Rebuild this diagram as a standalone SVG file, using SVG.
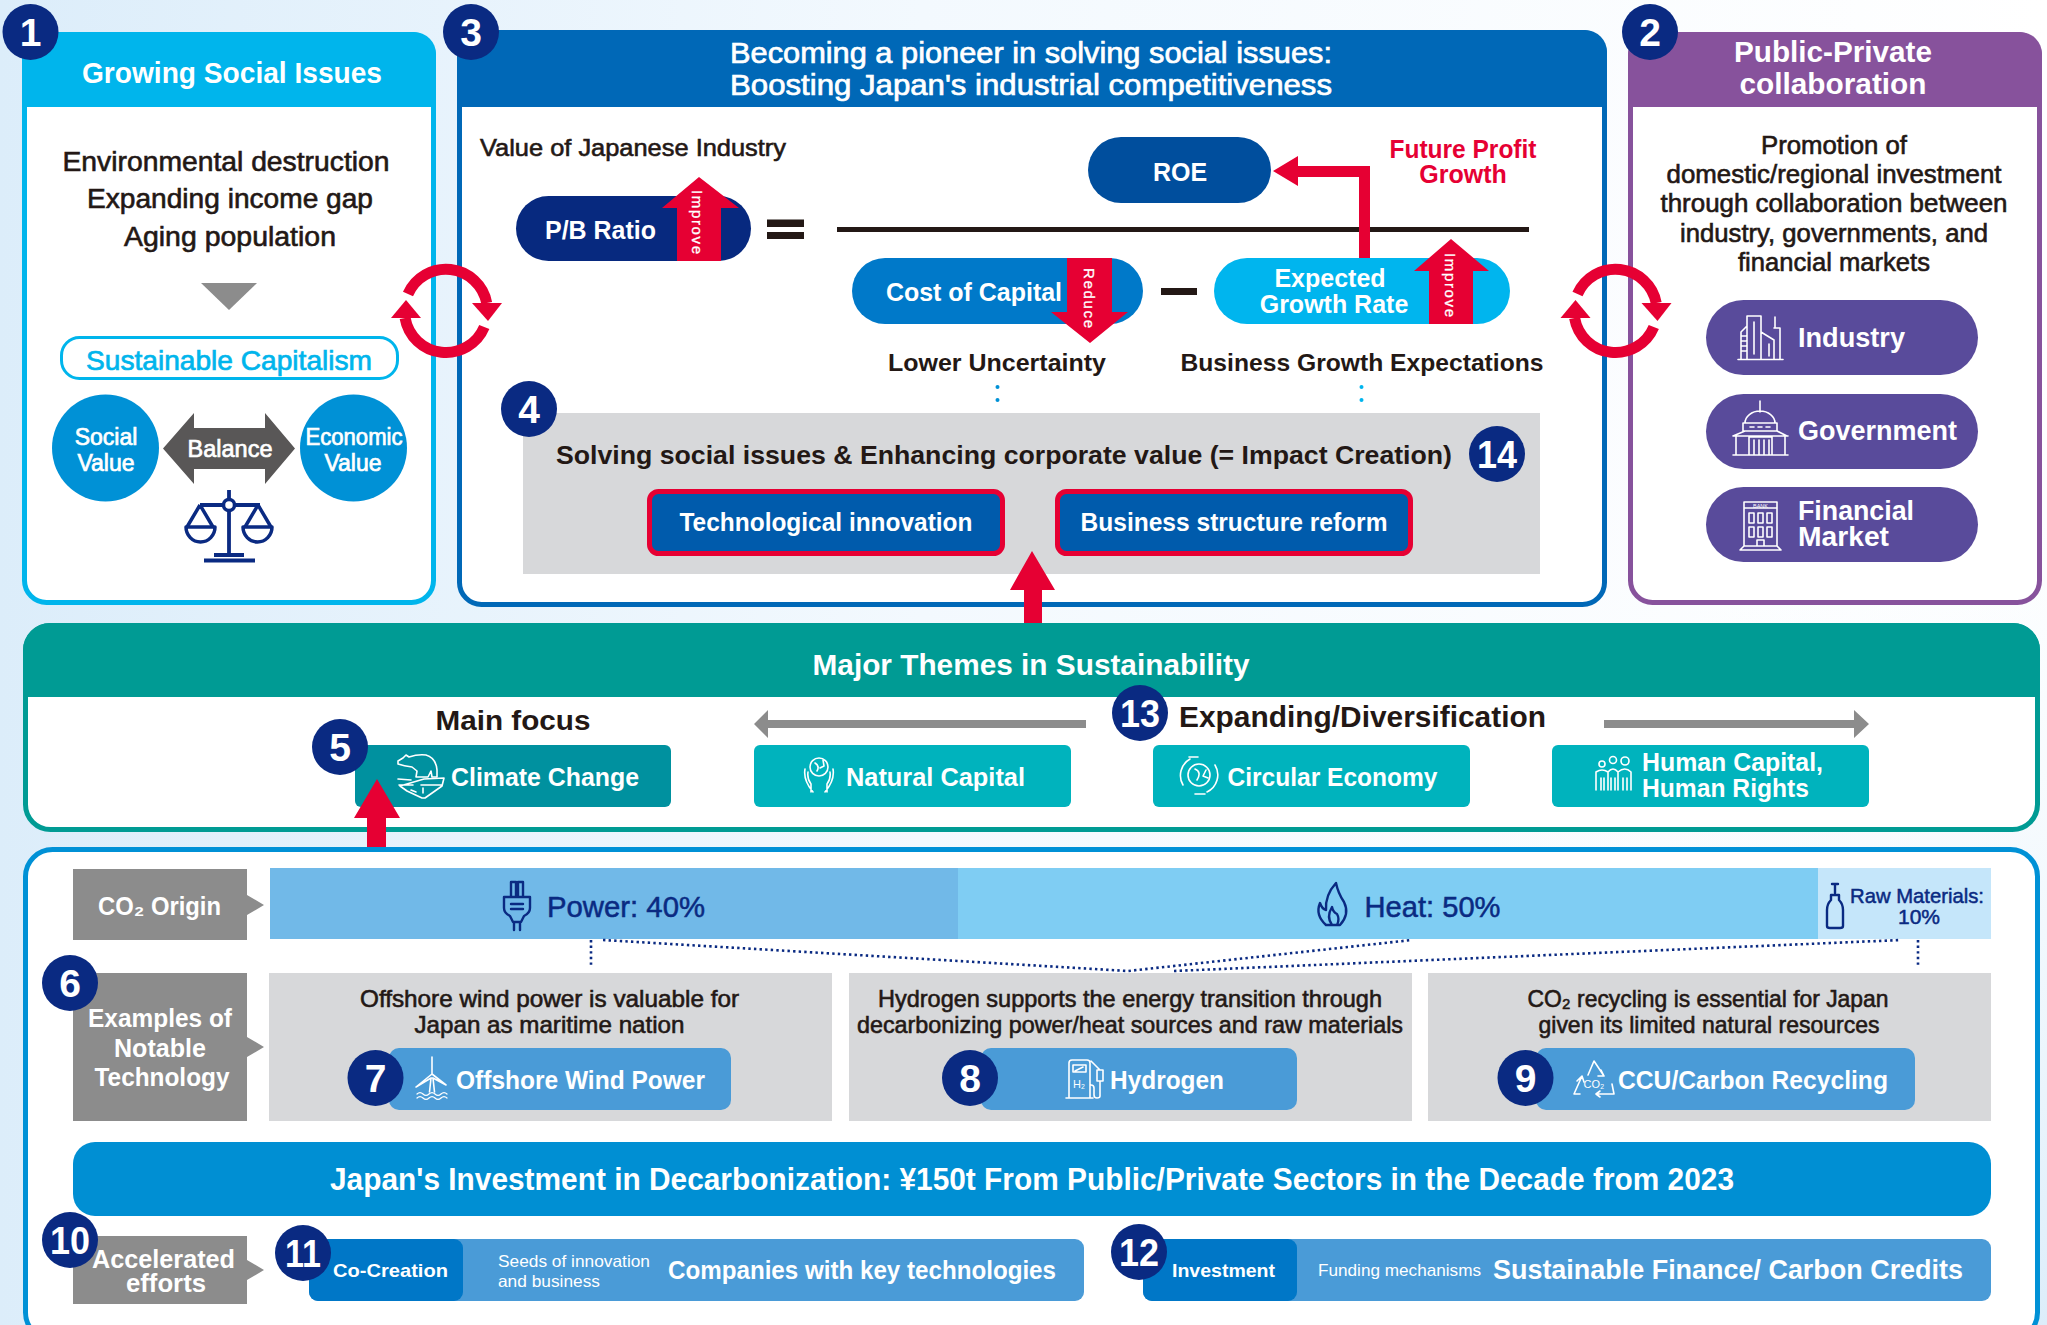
<svg xmlns="http://www.w3.org/2000/svg" width="2047" height="1325" viewBox="0 0 2047 1325">
<style>
text{font-family:"Liberation Sans",Arial,sans-serif}
.c{text-anchor:middle}
.b{font-weight:700}
.dk{fill:#231815;stroke:#231815;stroke-width:.6}
.wr{fill:#fff;stroke:#fff;stroke-width:.7}
.wh{fill:#fff;font-weight:700}
.wb{fill:#fff;font-weight:700}
.nv{fill:#0a2a82;stroke:#0a2a82;stroke-width:.5}
.bdg{fill:#0a2a82}
.bt{fill:#fff;font-weight:700;font-size:39px;text-anchor:middle}
.ic{fill:none;stroke:#fff;stroke-width:1.6;stroke-linejoin:round;stroke-linecap:round}
.in{fill:none;stroke:#0a2a82;stroke-width:2.4;stroke-linejoin:round;stroke-linecap:round}
.red{fill:#e60033}
.gy{fill:#8c8c8c}
.lg{fill:#d7d8da}
.btn{fill:#4a9bd7}
.th{fill:#00b3bd}
.pp{fill:#594b9b}
.lb{fill:#fff;font-size:15px;text-anchor:middle;stroke:#fff;stroke-width:.3}
.dot{fill:none;stroke:#0a2a82;stroke-width:2.6;stroke-dasharray:2.4 3.2}
.ring{fill:none;stroke:#e60033;stroke-width:11}
</style>
<defs>
<linearGradient id="bg" x1="0" y1="0" x2="1" y2="0"><stop offset="0" stop-color="#dcedfa"/><stop offset=".45" stop-color="#f3f9fe"/><stop offset="1" stop-color="#fff"/></linearGradient>
<linearGradient id="bg2" x1="0" y1="0" x2="1" y2="1"><stop offset=".6" stop-color="#fff" stop-opacity="0"/><stop offset="1" stop-color="#dcedfa"/></linearGradient>
<g id="cycle">
<path class="ring" d="M408 294A41.500 41.500 0 0 1 486.700 303"/><path class="red" d="M472 303H502L488 321Z"/>
<path class="ring" d="M484.300 327A41.500 41.500 0 0 1 405.100 318"/><path class="red" d="M391 318H421L406 300Z"/>
</g>
</defs>
<rect width="2047" height="1325" fill="url(#bg)"/>
<rect width="2047" height="1325" fill="url(#bg2)"/>

<g id="panel-1">
<rect x="24.500" y="34.500" width="409" height="568" rx="22" fill="#fff" stroke="#00b5ec" stroke-width="5"/>
<path d="M22 107V54a22 22 0 0 1 22-22H414a22 22 0 0 1 22 22V107Z" fill="#00b5ec"/>
<text class="wb c" x="232" y="83" font-size="30" textLength="300" lengthAdjust="spacingAndGlyphs">Growing Social Issues</text>
<g class="dk" font-size="27">
<text class="c" x="226" y="171" textLength="327" lengthAdjust="spacingAndGlyphs">Environmental destruction</text>
<text class="c" x="230" y="208" textLength="286" lengthAdjust="spacingAndGlyphs">Expanding income gap</text>
<text class="c" x="230" y="246" textLength="212" lengthAdjust="spacingAndGlyphs">Aging population</text>
</g>
<path class="gy" d="M201 283H257L229 310Z"/>
<circle class="bdg" cx="30.500" cy="32" r="28"/><text class="bt" x="30.500" y="46">1</text>
</g>

<g id="sustainable-capitalism">
<rect x="61.500" y="337.500" width="336" height="41" rx="18" fill="#fff" stroke="#00b5ec" stroke-width="3"/>
<text class="c" x="229" y="370" font-size="28" fill="#00b5ec" stroke="#00b5ec" stroke-width=".7" textLength="286" lengthAdjust="spacingAndGlyphs">Sustainable Capitalism</text>
</g>
<g id="social-value"><circle cx="105.500" cy="448" r="53.500" fill="#0091d6"/>
<text class="wr c" x="106" y="445" font-size="23">Social</text><text class="wr c" x="106" y="471" font-size="23">Value</text></g>
<g id="economic-value"><circle cx="353.500" cy="448" r="53.500" fill="#0091d6"/>
<text class="wr c" x="354" y="445" font-size="23" textLength="97" lengthAdjust="spacingAndGlyphs">Economic</text><text class="wr c" x="353" y="471" font-size="23">Value</text></g>
<g id="balance"><path d="M163 448.500L194 413V428H265V413L295 448.500L265 484V469H194V484Z" fill="#595757"/>
<text class="wr c" x="230" y="456.500" font-size="23.500">Balance</text>
<g fill="none" stroke="#0a2a82" stroke-width="3.500" stroke-linejoin="round">
<path d="M229 490V554M200 505H260M214 555H244M204 560.500H255" stroke-width="3.800"/>
<circle cx="229" cy="505" r="5.500" fill="#fff"/>
<path d="M200 505L187 527M200 505L213 527M258 505L245 527M258 505L271 527"/>
<path d="M186 527H215A14.500 15 0 0 1 186 527ZM243 527H272A14.500 15 0 0 1 243 527Z"/>
</g></g>

<g id="panel-3">
<rect x="459.500" y="32.500" width="1145" height="572" rx="22" fill="#fff" stroke="#0068b7" stroke-width="5"/>
<path d="M457 107V52a22 22 0 0 1 22-22H1585a22 22 0 0 1 22 22V107Z" fill="#0068b7"/>
<text class="wr c" x="1031" y="63" font-size="29" textLength="602" lengthAdjust="spacingAndGlyphs">Becoming a pioneer in solving social issues:</text>
<text class="wr c" x="1031" y="95" font-size="29" textLength="602" lengthAdjust="spacingAndGlyphs">Boosting Japan's industrial competitiveness</text>
<text class="dk" x="480" y="156" font-size="24.500" textLength="306" lengthAdjust="spacingAndGlyphs">Value of Japanese Industry</text>
<circle class="bdg" cx="471" cy="32" r="28"/><text class="bt" x="471" y="46">3</text>
</g>
<g id="panel-2">
<rect x="1630.500" y="34.500" width="409" height="568" rx="22" fill="#fff" stroke="#87529c" stroke-width="5"/>
<path d="M1628 107V54a22 22 0 0 1 22-22H2020a22 22 0 0 1 22 22V107Z" fill="#87529c"/>
<text class="wb c" x="1833" y="62" font-size="29.500" textLength="198" lengthAdjust="spacingAndGlyphs">Public-Private</text>
<text class="wb c" x="1833" y="94" font-size="29.500" textLength="187" lengthAdjust="spacingAndGlyphs">collaboration</text>
<g class="dk" font-size="25">
<text class="c" x="1834" y="154" textLength="146" lengthAdjust="spacingAndGlyphs">Promotion of</text>
<text class="c" x="1834" y="183" textLength="335" lengthAdjust="spacingAndGlyphs">domestic/regional investment</text>
<text class="c" x="1834" y="212" textLength="347" lengthAdjust="spacingAndGlyphs">through collaboration between</text>
<text class="c" x="1834" y="242" textLength="308" lengthAdjust="spacingAndGlyphs">industry, governments, and</text>
<text class="c" x="1834" y="271" textLength="192" lengthAdjust="spacingAndGlyphs">financial markets</text>
</g>
<circle class="bdg" cx="1650" cy="32" r="28"/><text class="bt" x="1650" y="46">2</text>
</g>

<g id="industry"><rect class="pp" x="1706" y="300" width="272" height="75" rx="37.500"/>
<g class="ic"><path d="M1738 359.500H1783M1741 359.500V332L1747 326V359.500M1747 359.500V316H1761V359.500M1761 332L1774 340V359.500M1774 328H1780V359.500M1775 328V317M1741 336H1746M1741 341H1746M1741 346H1746M1741 351H1746M1754 322V354M1769 344V356"/></g>
<text class="wb" x="1798" y="347" font-size="28" textLength="107" lengthAdjust="spacingAndGlyphs">Industry</text></g>
<g id="government"><rect class="pp" x="1706" y="394" width="272" height="75" rx="37.500"/>
<g class="ic"><path d="M1760 401V412M1745 423A15 12 0 0 1 1775 423M1743 423H1777V431H1743ZM1733 436L1745 431M1787 436L1777 431M1733 436H1788M1736 436V455M1785 436V455M1733 455H1788M1749 437H1772V455M1749 437V455M1754 440V455M1759 440V455M1764 440V455M1769 440V455M1750 427H1754M1758 427H1762M1766 427H1770"/></g>
<text class="wb" x="1798" y="440" font-size="28" textLength="159" lengthAdjust="spacingAndGlyphs">Government</text></g>
<g id="financial-market"><rect class="pp" x="1706" y="487" width="272" height="75" rx="37.500"/>
<g class="ic"><path d="M1744 546V502H1777V546M1744 508H1777M1740 550L1744 546H1777L1781 550ZM1757 546V540H1764V546"/><rect x="1749" y="513" width="5" height="10"/><rect x="1758" y="513" width="5" height="10"/><rect x="1767" y="513" width="5" height="10"/><rect x="1749" y="527" width="5" height="10"/><rect x="1758" y="527" width="5" height="10"/><rect x="1767" y="527" width="5" height="10"/></g>
<text class="c" x="1760.500" y="508" font-size="5.500" fill="#fff">BANK</text>
<text class="wb" x="1798" y="520" font-size="27" textLength="116" lengthAdjust="spacingAndGlyphs">Financial</text>
<text class="wb" x="1798" y="546" font-size="27" textLength="91" lengthAdjust="spacingAndGlyphs">Market</text></g>

<g id="equation">
<path fill="#231815" d="M767 219.500H804V227H767ZM767 232H804V239H767ZM837 227H1529V232H837ZM1161 288H1197V295H1161Z"/>
<g id="pb-ratio"><rect x="516" y="196" width="235" height="65" rx="32.500" fill="#07297f"/>
<text class="wb" x="545" y="239" font-size="25" textLength="111" lengthAdjust="spacingAndGlyphs">P/B Ratio</text>
<path class="red" d="M677 261V208H662L699 177L739 208H721V261Z"/>
<text class="lb" transform="translate(692 222) rotate(90)" textLength="64">Improve</text></g>
<g id="roe"><rect x="1088" y="137" width="183" height="66" rx="33" fill="#004e9d"/>
<text class="wb c" x="1180" y="181" font-size="25">ROE</text></g>
<g id="cost-of-capital"><rect x="852" y="258" width="291" height="66" rx="33" fill="#0079c9"/>
<text class="wb" x="886" y="301" font-size="25" textLength="176" lengthAdjust="spacingAndGlyphs">Cost of Capital</text>
<path class="red" d="M1067 258H1112V312H1128L1090 343L1051 312H1067Z"/>
<text class="lb" transform="translate(1084 298) rotate(90)" textLength="60">Reduce</text></g>
<g id="expected-growth-rate"><rect x="1214" y="258" width="296" height="66" rx="33" fill="#00b5ee"/>
<text class="wb c" x="1330" y="287" font-size="25">Expected</text>
<text class="wb c" x="1334" y="313" font-size="25">Growth Rate</text>
<path class="red" d="M1429 324V271H1414L1451 239L1489 271H1473V324Z"/>
<text class="lb" transform="translate(1445 285) rotate(90)" textLength="64">Improve</text></g>
<text class="b" x="1463" y="158" font-size="25" fill="#e60033" text-anchor="middle" textLength="147" lengthAdjust="spacingAndGlyphs">Future Profit</text>
<text class="b" x="1463" y="183" font-size="25" fill="#e60033" text-anchor="middle">Growth</text>
<text class="b c" x="997" y="371" font-size="24" fill="#231815" textLength="218" lengthAdjust="spacingAndGlyphs">Lower Uncertainty</text>
<text class="b c" x="1362" y="371" font-size="24" fill="#231815" textLength="363" lengthAdjust="spacingAndGlyphs">Business Growth Expectations</text>
<circle cx="997.500" cy="387" r="2" fill="#0091d6"/><circle cx="997.500" cy="400" r="2" fill="#0091d6"/>
<circle cx="1361.500" cy="387" r="2" fill="#00b5ee"/><circle cx="1361.500" cy="400" r="2" fill="#00b5ee"/>
</g>

<g id="impact-creation">
<rect class="lg" x="523" y="413" width="1017" height="161"/>
<text class="b" x="556" y="464" font-size="26.500" fill="#231815" textLength="896" lengthAdjust="spacingAndGlyphs">Solving social issues &amp; Enhancing corporate value (= Impact Creation)</text>
<circle class="bdg" cx="529" cy="409" r="28"/><text class="bt" x="529" y="423">4</text>
<circle class="bdg" cx="1497" cy="454" r="28"/><text class="bt" x="1497" y="468" textLength="40" lengthAdjust="spacingAndGlyphs">14</text>
</g>
<g id="technological-innovation"><rect x="649.500" y="491.500" width="353" height="62" rx="9" fill="#005bac" stroke="#e60033" stroke-width="5"/>
<text class="wh c" x="826" y="531" font-size="25" textLength="293" lengthAdjust="spacingAndGlyphs">Technological innovation</text></g>
<g id="business-structure-reform"><rect x="1057.500" y="491.500" width="353" height="62" rx="9" fill="#005bac" stroke="#e60033" stroke-width="5"/>
<text class="wh c" x="1234" y="531" font-size="25" textLength="307" lengthAdjust="spacingAndGlyphs">Business structure reform</text></g>

<g id="themes">
<rect x="25.500" y="625.500" width="2012" height="204" rx="25" fill="#fff" stroke="#009b94" stroke-width="5"/>
<path d="M23 697V650a27 27 0 0 1 27-27H2013a27 27 0 0 1 27 27V697Z" fill="#009b94"/>
<text class="wb c" x="1031" y="675" font-size="30" textLength="437" lengthAdjust="spacingAndGlyphs">Major Themes in Sustainability</text>
<text class="b c" x="513" y="730" font-size="28.500" fill="#231815" textLength="155" lengthAdjust="spacingAndGlyphs">Main focus</text>
<text class="b" x="1179" y="727" font-size="29" fill="#231815" textLength="367" lengthAdjust="spacingAndGlyphs">Expanding/Diversification</text>
</g>
<g id="climate-change"><rect x="355" y="745" width="316" height="62" rx="6" fill="#00919f"/>
<g class="ic"><path d="M398 761L403 758L406 755L409 757Q418 754 426 755Q436 758 437 770V777H432L431 771L428 777H416L417 771L412 767Q404 766 398 764Z"/><path d="M398 779L411 780M424 779L444 778L442 786L425 798H422L407 791L400 786ZM399 785H413M421 785H442M411 790L416 792M423 788V793"/></g>
<text class="wh" x="451" y="786" font-size="25" textLength="188" lengthAdjust="spacingAndGlyphs">Climate Change</text></g>
<g id="natural-capital"><rect class="th" x="754" y="745" width="317" height="62" rx="6"/>
<g class="ic"><circle cx="819" cy="767" r="9"/><path d="M815 763Q820 766 817 771M823 760L824 766L820 768M805 769Q803 780 813 792M811 792V784Q807 779 808 772M833 769Q835 780 825 792M827 792V784Q831 779 830 772"/></g>
<text class="wh" x="846" y="786" font-size="25" textLength="179" lengthAdjust="spacingAndGlyphs">Natural Capital</text></g>
<g id="circular-economy"><rect class="th" x="1153" y="745" width="317" height="62" rx="6"/>
<g class="ic"><circle cx="1199" cy="775" r="11"/><path d="M1195 769Q1202 772 1197 780M1206 770L1203 776L1208 778M1183 785A19 19 0 0 1 1190 759M1215 765A19 19 0 0 1 1207 792M1189 757H1198M1205 794H1195"/></g>
<text class="wh" x="1227.500" y="786" font-size="25" textLength="210" lengthAdjust="spacingAndGlyphs">Circular Economy</text></g>
<g id="human-capital"><rect class="th" x="1552" y="745" width="317" height="62" rx="6"/>
<g class="ic"><circle cx="1602" cy="764" r="3"/><circle cx="1613" cy="760" r="3.500"/><circle cx="1625" cy="761" r="4"/><path d="M1596 790V772Q1602 768 1608 772V790M1608 772Q1613 766 1618 772M1618 790V772Q1625 766 1631 772V790M1601 778V790M1604 778V790M1611 778V790M1615 778V790M1623 778V790M1627 778V790"/></g>
<text class="wh" x="1642" y="771" font-size="25" textLength="181" lengthAdjust="spacingAndGlyphs">Human Capital,</text>
<text class="wh" x="1642" y="797" font-size="25" textLength="167" lengthAdjust="spacingAndGlyphs">Human Rights</text></g>

<g id="decarbonization-panel"><rect x="25.500" y="849.500" width="2012" height="490" rx="27" fill="#fff" stroke="#0091d6" stroke-width="5"/></g>
<g id="co2-origin"><path class="gy" d="M73 869H247V895L264 905L247 915V940H73Z"/>
<text class="wh" x="98" y="915" font-size="25" textLength="123" lengthAdjust="spacingAndGlyphs">CO₂ Origin</text></g>
<g id="power"><rect x="270" y="868" width="688" height="71" fill="#71b9e8"/>
<g class="in"><path d="M511 882H516V897H511ZM518 882H523V897H518ZM504 897H530V908Q530 913 524 916L521 922H513L510 916Q504 913 504 908ZM511 904H523M511 909H523M514 922V930M520 922V930"/></g>
<text class="nv" x="547" y="917" font-size="29" textLength="158" lengthAdjust="spacingAndGlyphs">Power: 40%</text></g>
<g id="heat"><rect x="958" y="868" width="860" height="71" fill="#7fcdf3"/>
<g class="in"><path d="M1336 883Q1338 893 1344 902Q1350 914 1340 925H1326Q1315 915 1320 903Q1322 909 1326 910Q1325 895 1336 883ZM1332 925Q1326 917 1332 907Q1333 912 1337 914Q1340 919 1337 925"/></g>
<text class="nv" x="1364.500" y="917" font-size="29" textLength="136" lengthAdjust="spacingAndGlyphs">Heat: 50%</text></g>
<g id="raw-materials"><rect x="1818" y="868" width="173" height="71" fill="#c5e6fa"/>
<g class="in"><path d="M1832 884H1838M1835 884V893M1831 895V900Q1827 904 1827 910V926Q1827 928 1830 928H1840Q1843 928 1843 926V910Q1843 904 1839 900V895Z"/></g>
<text class="nv c" x="1917" y="903" font-size="21" textLength="134" lengthAdjust="spacingAndGlyphs">Raw Materials:</text>
<text class="nv c" x="1919" y="924" font-size="21">10%</text></g>

<g id="examples"><path class="gy" d="M73 973H247V1037L264 1047L247 1057V1121H73Z"/>
<g class="wh" font-size="25"><text class="c" x="160" y="1027" textLength="144" lengthAdjust="spacingAndGlyphs">Examples of</text><text class="c" x="160" y="1057" textLength="92" lengthAdjust="spacingAndGlyphs">Notable</text><text class="c" x="162" y="1086" textLength="135" lengthAdjust="spacingAndGlyphs">Technology</text></g>
<circle class="bdg" cx="70" cy="983" r="28"/><text class="bt" x="70" y="997">6</text></g>
<g id="card-wind"><rect class="lg" x="269" y="973" width="563" height="148"/>
<g class="dk" font-size="24"><text class="c" x="549.500" y="1007" textLength="379" lengthAdjust="spacingAndGlyphs">Offshore wind power is valuable for</text><text class="c" x="549.500" y="1033" textLength="270" lengthAdjust="spacingAndGlyphs">Japan as maritime nation</text></g></g>
<g id="offshore-wind-power"><rect class="btn" x="389" y="1048" width="342" height="62" rx="10"/>
<g class="ic"><path d="M432 1057V1074M429.500 1092L431 1078H433L434.500 1092M432 1074L416 1087L431 1078M432 1074L446 1085L433 1078"/><path d="M417 1094Q420 1091 423 1094T429 1094T435 1094T441 1094T447 1094M417 1098Q420 1095 423 1098T429 1098T435 1098T441 1098T447 1098" stroke-width="1.200"/></g>
<text class="wh" x="456" y="1089" font-size="25" textLength="249" lengthAdjust="spacingAndGlyphs">Offshore Wind Power</text>
<circle class="bdg" cx="375.500" cy="1078" r="28"/><text class="bt" x="375.500" y="1092">7</text></g>
<g id="card-hydrogen"><rect class="lg" x="849" y="973" width="563" height="148"/>
<g class="dk" font-size="24"><text class="c" x="1130" y="1007" textLength="504" lengthAdjust="spacingAndGlyphs">Hydrogen supports the energy transition through</text><text class="c" x="1130" y="1033" textLength="546" lengthAdjust="spacingAndGlyphs">decarbonizing power/heat sources and raw materials</text></g></g>
<g id="hydrogen"><rect class="btn" x="981" y="1048" width="316" height="62" rx="10"/>
<g class="ic"><path d="M1069 1098V1063Q1069 1060 1072 1060H1087Q1090 1060 1090 1063V1098M1066 1098H1093M1073 1065H1086V1072H1073ZM1075 1071L1083 1067M1091 1061L1100 1070M1097 1070H1103V1081H1097ZM1100 1081V1096Q1100 1098 1097 1098Q1094 1098 1094 1095V1088Q1094 1085 1091 1085"/></g>
<text x="1079" y="1088" font-size="11" fill="#fff" text-anchor="middle">H₂</text>
<text class="wh" x="1110" y="1089" font-size="25" textLength="114" lengthAdjust="spacingAndGlyphs">Hydrogen</text>
<circle class="bdg" cx="970" cy="1078" r="28"/><text class="bt" x="970" y="1092">8</text></g>
<g id="card-ccu"><rect class="lg" x="1428" y="973" width="563" height="148"/>
<g class="dk" font-size="24"><text class="c" x="1708" y="1007" textLength="361" lengthAdjust="spacingAndGlyphs">CO₂ recycling is essential for Japan</text><text class="c" x="1709" y="1033" textLength="341" lengthAdjust="spacingAndGlyphs">given its limited natural resources</text></g></g>
<g id="ccu"><rect class="btn" x="1536" y="1048" width="379" height="62" rx="10"/>
<g class="ic"><path d="M1588 1075L1594 1061L1604 1076M1601 1070L1604 1076L1598 1076M1612 1084L1614 1094H1596M1600 1091L1596 1094L1600 1097M1580 1094H1574L1582 1076M1577 1081L1582 1076L1584 1082"/></g>
<text x="1594" y="1088" font-size="11" fill="#fff" text-anchor="middle">CO₂</text>
<text class="wh" x="1618" y="1089" font-size="25" textLength="270" lengthAdjust="spacingAndGlyphs">CCU/Carbon Recycling</text>
<circle class="bdg" cx="1525.500" cy="1078" r="28"/><text class="bt" x="1525.500" y="1092">9</text></g>
<g id="investment-banner"><rect x="73" y="1142" width="1918" height="74" rx="22" fill="#008fd3"/>
<text class="wb c" x="1032" y="1190" font-size="31.500" textLength="1404" lengthAdjust="spacingAndGlyphs">Japan's Investment in Decarbonization: ¥150t From Public/Private Sectors in the Decade from 2023</text></g>
<g id="accelerated"><path class="gy" d="M73 1236H247V1260L264 1270L247 1280V1304H73Z"/>
<g class="wh" font-size="25"><text class="c" x="163.500" y="1268" textLength="143" lengthAdjust="spacingAndGlyphs">Accelerated</text><text class="c" x="166" y="1292" textLength="80" lengthAdjust="spacingAndGlyphs">efforts</text></g>
<circle class="bdg" cx="70" cy="1240" r="28"/><text class="bt" x="70" y="1254" textLength="40" lengthAdjust="spacingAndGlyphs">10</text></g>
<g id="co-creation"><rect class="btn" x="309" y="1239" width="775" height="62" rx="9"/><rect x="309" y="1239" width="154" height="62" rx="9" fill="#0077c7"/>
<text class="wh" x="333" y="1277" font-size="19" textLength="115" lengthAdjust="spacingAndGlyphs">Co-Creation</text>
<text fill="#fff" x="498" y="1267" font-size="16.500" textLength="152" lengthAdjust="spacingAndGlyphs">Seeds of innovation</text>
<text fill="#fff" x="498" y="1287" font-size="16.500" textLength="102" lengthAdjust="spacingAndGlyphs">and business</text>
<text class="wb" x="668" y="1279" font-size="25" textLength="388" lengthAdjust="spacingAndGlyphs">Companies with key technologies</text>
<circle class="bdg" cx="303" cy="1253" r="28"/><text class="bt" x="303" y="1267" textLength="36" lengthAdjust="spacingAndGlyphs">11</text></g>
<g id="investment"><rect class="btn" x="1143" y="1239" width="848" height="62" rx="9"/><rect x="1143" y="1239" width="154" height="62" rx="9" fill="#0077c7"/>
<text class="wh" x="1172" y="1277" font-size="19" textLength="103" lengthAdjust="spacingAndGlyphs">Investment</text>
<text fill="#fff" x="1318" y="1276" font-size="17" textLength="163" lengthAdjust="spacingAndGlyphs">Funding mechanisms</text>
<text class="wb" x="1493" y="1279" font-size="27" textLength="470" lengthAdjust="spacingAndGlyphs">Sustainable Finance/ Carbon Credits</text>
<circle class="bdg" cx="1139" cy="1252" r="28"/><text class="bt" x="1139" y="1266" textLength="40" lengthAdjust="spacingAndGlyphs">12</text></g>

<g id="connectors">
<use href="#cycle"/>
<use href="#cycle" x="1169.500"/>
<path class="red" d="M1359 258V177H1298V186L1273 171L1298 156V166H1370V258Z"/>
<path class="red" d="M1024 623V590H1010L1032 551L1055 590H1042V623Z"/>
<path class="red" d="M367 847V818H354L377 779L400 818H386V847Z"/>
<path class="gy" d="M754 724L768 710V720H1086V728H768V738Z"/>
<path class="gy" d="M1604 720H1854V710L1869 724L1854 738V728H1604Z"/>
<path class="dot" d="M591 940V968M603 940L1128 971L1412 940M1174 971L1901 940M1918 940V968"/>
</g>
<g id="badge-5"><circle class="bdg" cx="340" cy="747" r="28"/><text class="bt" x="340" y="761">5</text></g>
<g id="badge-13"><circle class="bdg" cx="1140" cy="713" r="28"/><text class="bt" x="1140" y="727" textLength="40" lengthAdjust="spacingAndGlyphs">13</text></g>
</svg>
